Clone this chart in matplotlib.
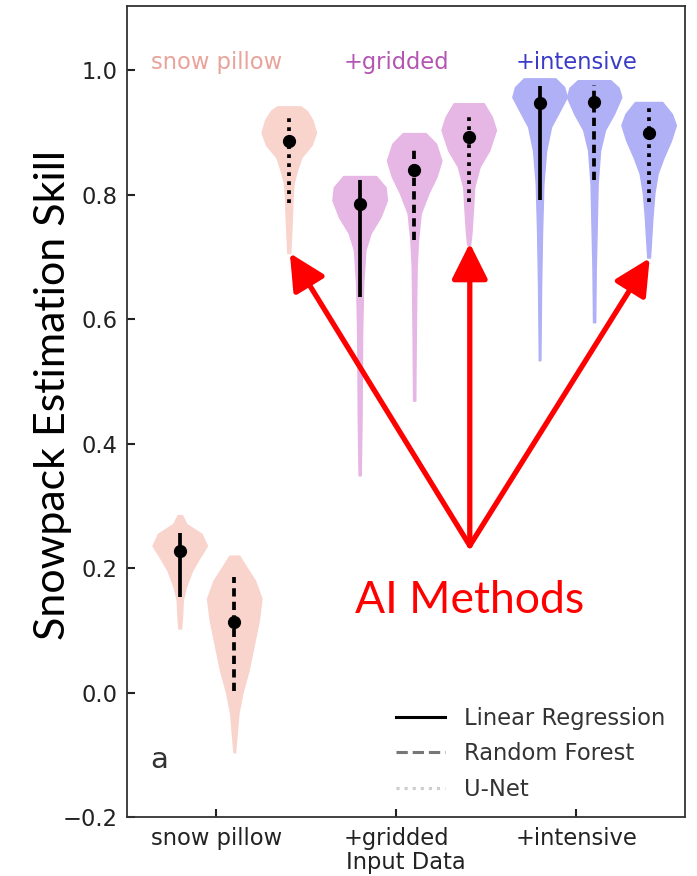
import matplotlib.pyplot as plt
from matplotlib.lines import Line2D

groups = ['snow pillow', '+gridded', '+intensive']
methods = ['Linear Regression', 'Random Forest', 'U-Net']

# density profiles (value, relative width), one per violin
# order: snow pillow LR/RF/UNet, +gridded LR/RF/UNet, +intensive LR/RF/UNet
dens_y = [
    [0.103, 0.127, 0.148, 0.169, 0.196, 0.217, 0.236, 0.255, 0.271, 0.285],
    [-0.096, -0.066, -0.034, 0.0, 0.035, 0.073, 0.116, 0.151, 0.180, 0.201, 0.220],
    [0.706, 0.75, 0.80, 0.82, 0.84, 0.86, 0.88, 0.90, 0.92, 0.935, 0.942],
    [0.349, 0.442, 0.577, 0.657, 0.711, 0.738, 0.764, 0.791, 0.812, 0.830],
    [0.469, 0.58, 0.684, 0.727, 0.77, 0.802, 0.829, 0.855, 0.882, 0.899],
    [0.719, 0.738, 0.78, 0.812, 0.845, 0.871, 0.904, 0.925, 0.947],
    [0.534, 0.65, 0.738, 0.818, 0.871, 0.909, 0.936, 0.957, 0.973, 0.987],
    [0.595, 0.68, 0.738, 0.818, 0.871, 0.904, 0.93, 0.957, 0.972, 0.984],
    [0.699, 0.727, 0.764, 0.802, 0.834, 0.86, 0.887, 0.912, 0.93, 0.949],
]
dens_w = [
    [0.05, 0.09, 0.11, 0.22, 0.45, 0.73, 1.0, 0.8, 0.24, 0.08],
    [0.03, 0.09, 0.15, 0.3, 0.52, 0.7, 0.9, 1.0, 0.76, 0.45, 0.18],
    [0.05, 0.1, 0.14, 0.18, 0.3, 0.45, 0.82, 0.98, 0.85, 0.64, 0.42],
    [0.04, 0.07, 0.09, 0.13, 0.21, 0.4, 0.76, 1.0, 0.95, 0.6],
    [0.04, 0.06, 0.09, 0.14, 0.24, 0.52, 0.82, 1.0, 0.8, 0.42],
    [0.05, 0.1, 0.16, 0.2, 0.4, 0.75, 1.0, 0.85, 0.55],
    [0.03, 0.055, 0.09, 0.14, 0.24, 0.42, 0.75, 1.0, 0.9, 0.58],
    [0.04, 0.06, 0.09, 0.13, 0.22, 0.4, 0.73, 1.0, 0.9, 0.6],
    [0.05, 0.09, 0.14, 0.21, 0.33, 0.55, 0.82, 1.0, 0.85, 0.5],
]
medians = [0.227, 0.114, 0.887, 0.785, 0.839, 0.893, 0.947, 0.949, 0.899]
q_low = [0.153, 0.002, 0.786, 0.635, 0.727, 0.788, 0.791, 0.823, 0.788]
q_high = [0.257, 0.186, 0.928, 0.823, 0.876, 0.928, 0.974, 0.976, 0.941]

face_colors = ['#f9d4cc', '#e6b6e4', '#b0b0f6']
label_colors = ['#e8a39b', '#b455b4', '#3b3bc8']
line_styles = ['-', (0, (2.2, 1.4)), (0, (1, 1.4))]
group_step = 3.3

plt.rcParams['font.family'] = 'DejaVu Sans'
plt.rcParams['font.size'] = 16.3

fig = plt.figure(figsize=(6.97, 8.76), dpi=100)
ax = fig.add_axes([0.182, 0.0674, 0.801, 0.9256])

positions = []
stats = []
for g in range(3):
    for m in range(3):
        k = g * 3 + m
        positions.append(g * group_step + m)
        stats.append({'coords': dens_y[k], 'vals': dens_w[k], 'mean': medians[k],
                      'median': medians[k], 'min': dens_y[k][0], 'max': dens_y[k][-1]})

parts = ax.violin(stats, positions=positions, widths=1.0,
                  showmeans=False, showextrema=False, showmedians=False)
for k, body in enumerate(parts['bodies']):
    c = face_colors[k // 3]
    body.set_facecolor(c)
    body.set_edgecolor(c)
    body.set_alpha(1)
    body.set_linewidth(1)

for k, p in enumerate(positions):
    ax.plot([p, p], [q_low[k], q_high[k]], color='black', lw=2.7,
            ls=line_styles[k % 3], solid_capstyle='butt')
    ax.plot(p, medians[k], 'o', color='black', ms=8.5)

tick_pos = [g * group_step + 0.67 for g in range(3)]
for g in range(3):
    ax.text(tick_pos[g], 1.013, groups[g], color=label_colors[g],
            ha='center', va='center')

ax.set_xticks(tick_pos)
ax.set_xticklabels(groups)
ax.set_xlim(-0.97, 9.27)
ax.set_ylim(-0.2, 1.103)
ax.set_yticks([-0.2, 0.0, 0.2, 0.4, 0.6, 0.8, 1.0])
ax.tick_params(direction='in', length=6, width=1.5, colors='#222222', pad=7)
for s in ax.spines.values():
    s.set_linewidth(1.3)
    s.set_color('#333333')

ax.set_xlabel('Input Data', labelpad=1, color='#222222')
ax.set_ylabel('Snowpack Estimation Skill', family='Lato', fontsize=31)
ax.yaxis.set_label_coords(-0.099, 0.52)

ax.text(-0.37, -0.109, 'a', fontsize=21, color='#333333', ha='center', va='center')

handles = [Line2D([], [], color='black', lw=2.2, ls='-'),
           Line2D([], [], color='#777777', lw=2.2, ls='--'),
           Line2D([], [], color='#cccccc', lw=2.2, ls=':')]
ax.legend(handles, methods, loc='lower right', frameon=False, handlelength=2.2,
          handletextpad=0.8, labelspacing=0.55, labelcolor='#333333',
          bbox_to_anchor=(1.0, -0.005))

# AI methods callout
start = (5.32, 0.236)
for tgt in [(2.02, 0.706), (5.32, 0.722), (8.62, 0.698)]:
    ax.annotate('', xy=tgt, xytext=start,
                arrowprops=dict(arrowstyle='-|>,head_width=0.55,head_length=1.1',
                                color='red', lw=3.8, shrinkA=0, shrinkB=0,
                                mutation_scale=20))
ax.text(5.32, 0.148, 'AI Methods', family='Lato', fontsize=32, color='red',
        ha='center', va='center')

fig.savefig('out.png', dpi=100)
